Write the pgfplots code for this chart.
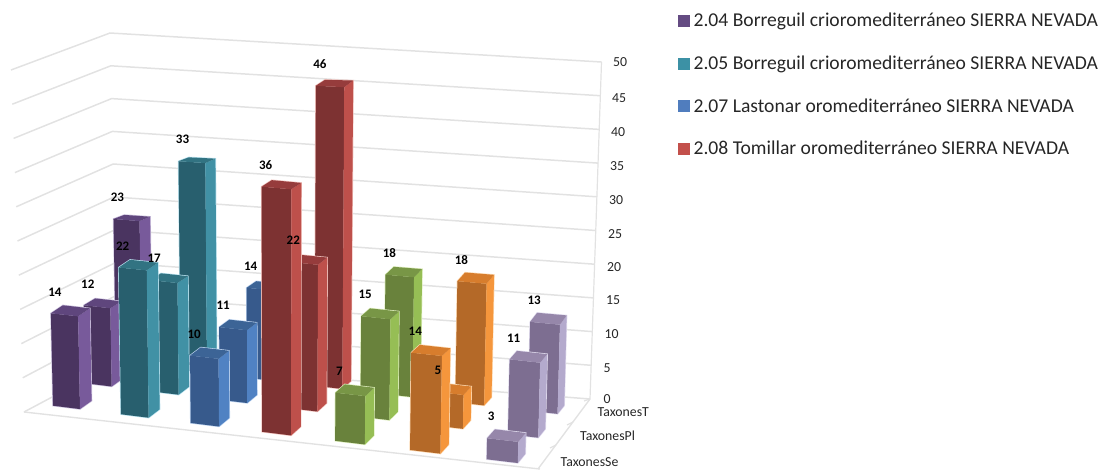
\documentclass[border=0pt]{standalone}
\usepackage{pgfplots}
\pgfplotsset{compat=1.18}
\usepackage{fontspec}
\setmainfont{Carlito}

% face colours: front, side, top, edge glow
\definecolor{purF}{RGB}{74,52,96}\definecolor{purS}{RGB}{120,90,155}\definecolor{purT}{RGB}{95,70,125}\definecolor{purH}{RGB}{205,195,222}
\definecolor{teaF}{RGB}{40,95,110}\definecolor{teaS}{RGB}{65,145,165}\definecolor{teaT}{RGB}{50,115,130}\definecolor{teaH}{RGB}{185,225,238}
\definecolor{bluF}{RGB}{55,90,140}\definecolor{bluS}{RGB}{80,130,195}\definecolor{bluT}{RGB}{60,100,150}\definecolor{bluH}{RGB}{190,212,240}
\definecolor{redF}{RGB}{125,50,50}\definecolor{redS}{RGB}{190,80,75}\definecolor{redT}{RGB}{150,60,60}\definecolor{redH}{RGB}{240,195,190}
\definecolor{griF}{RGB}{105,130,60}\definecolor{griS}{RGB}{150,190,85}\definecolor{griT}{RGB}{120,150,70}\definecolor{griH}{RGB}{222,238,190}
\definecolor{oraF}{RGB}{180,105,40}\definecolor{oraS}{RGB}{245,150,60}\definecolor{oraT}{RGB}{215,125,45}\definecolor{oraH}{RGB}{252,218,180}
\definecolor{lilF}{RGB}{125,110,145}\definecolor{lilS}{RGB}{180,170,205}\definecolor{lilT}{RGB}{150,135,170}\definecolor{lilH}{RGB}{225,220,238}
\definecolor{gridc}{RGB}{226,226,226}
\definecolor{legP}{RGB}{100,75,130}\definecolor{legT}{RGB}{60,145,165}\definecolor{legB}{RGB}{80,125,190}\definecolor{legR}{RGB}{195,80,75}

% one vertex of a bar: #1 category position, #2 row position, #3 height, #4 vertex name
\newcommand\BarVertex[4]{%
  \pgfmathsetmacro\uu{#1/6}%
  \pgfmathsetmacro\vv{#2/2}%
  \pgfmathsetmacro\ww{1-0.04743*\uu+0.05742*\vv}%
  \pgfmathsetmacro\xx{(410.62*\uu+69.66*\vv+53)/\ww-10*\uu*(1-\uu)}%
  \pgfmathsetmacro\yy{(31.81*\uu-22.91*\vv+405.7)/\ww}%
  \pgfmathsetmacro\ss{6.6-0.01*#2-0.09*#2*#2+(0.07-0.055*#2+0.035*#2*#2)*#1}%
  \pgfmathsetmacro\rx{\xx+#3*(\xx-280)/1500}%
  \pgfmathsetmacro\ry{\yy-#3*\ss}%
  \expandafter\let\csname X#4\endcsname\rx
  \expandafter\let\csname Y#4\endcsname\ry
}
\newcommand\BarCorners[3]{%
  \pgfmathsetmacro\ia{#1+0.4}\pgfmathsetmacro\ja{#2+0.36}%
  \BarVertex{#1}{#2}{0}{a}\BarVertex{\ia}{#2}{0}{b}\BarVertex{\ia}{\ja}{0}{c}%
  \BarVertex{#1}{#2}{#3}{e}\BarVertex{\ia}{#2}{#3}{f}\BarVertex{\ia}{\ja}{#3}{g}\BarVertex{#1}{\ja}{#3}{h}%
}
% cuboid for category #1, row #2, value #3, colour family #4
\newcommand\DrawBar[4]{%
  \BarCorners{#1}{#2}{#3}%
  \addplot[forget plot,draw=#4H,line width=1.3pt,fill=#4H] coordinates {(\Xa,\Ya)(\Xb,\Yb)(\Xc,\Yc)(\Xg,\Yg)(\Xh,\Yh)(\Xe,\Ye)} --cycle;
  \addplot[forget plot,draw=none,fill=#4F] coordinates {(\Xa,\Ya)(\Xb,\Yb)(\Xf,\Yf)(\Xe,\Ye)} --cycle;
  \addplot[forget plot,draw=none,fill=#4S] coordinates {(\Xb,\Yb)(\Xc,\Yc)(\Xg,\Yg)(\Xf,\Yf)} --cycle;
  \addplot[forget plot,draw=none,fill=#4T] coordinates {(\Xe,\Ye)(\Xf,\Yf)(\Xg,\Yg)(\Xh,\Yh)} --cycle;
}
% value label, set just above the bar's top front corner
\newcommand\DrawLabel[4]{%
  \BarVertex{#1}{#2}{#3}{e}%
  \pgfmathsetmacro\lx{\Xe+4}\pgfmathsetmacro\ly{\Ye-21.5}%
  \addplot[forget plot,draw=none,mark=none,point meta=explicit symbolic,nodes near coords,
    nodes near coords style={anchor=center,inner sep=0pt,font=\fontsize{13}{14}\selectfont\bfseries}]
    coordinates {(\lx,\ly)[#3]};
}
% category, row (0 TaxonesSe, 1 TaxonesPl, 2 TaxonesT), value, colour family; back rows first
\newcommand\ChartData[1]{%
  #1{0}{2}{23}{pur}#1{1}{2}{33}{tea}#1{2}{2}{14}{blu}#1{3}{2}{46}{red}#1{4}{2}{18}{gri}#1{5}{2}{18}{ora}#1{6}{2}{13}{lil}%
  #1{0}{1}{12}{pur}#1{1}{1}{17}{tea}#1{2}{1}{11}{blu}#1{3}{1}{22}{red}#1{4}{1}{15}{gri}#1{5}{1}{5}{ora}#1{6}{1}{11}{lil}%
  #1{0}{0}{14}{pur}#1{1}{0}{22}{tea}#1{2}{0}{10}{blu}#1{3}{0}{36}{red}#1{4}{0}{7}{gri}#1{5}{0}{14}{ora}#1{6}{0}{3}{lil}%
}
\newcommand\GridLine[3]{\addplot[forget plot,gridc,line width=1.5pt] coordinates {#1 #2 #3};}
\newcommand\TextAt[3]{\addplot[forget plot,draw=none,mark=none,point meta=explicit symbolic,nodes near coords,
    nodes near coords style={anchor=#3,inner sep=0pt,text=black!85,font=\fontsize{13.8}{14}\selectfont}] coordinates {#1[#2]};}

\begin{document}
\begin{tikzpicture}
\useasboundingbox (0,0) rectangle (1100pt,469pt);
\begin{axis}[
  at={(0,0)},anchor=south west,
  scale only axis,width=1100pt,height=469pt,
  xmin=0,xmax=1100,ymin=0,ymax=469,y dir=reverse,
  axis lines=none,clip=true,
  legend style={at={(axis cs:678,11)},anchor=north west,draw=none,fill=none,
    font=\fontsize{19.6}{20}\selectfont,row sep=23.5pt,inner sep=0pt,
    /tikz/every even column/.append style={column sep=0pt},
    nodes={text=black!85}},
  legend cell align=left,
  legend image code/.code={\fill[#1] (0pt,-5.5pt) rectangle (11pt,5.5pt);\path (13pt,0pt);},
]
\addlegendimage{legP}\addlegendentry{2.04 Borreguil crioromediterráneo SIERRA NEVADA}
\addlegendimage{legT}\addlegendentry{2.05 Borreguil crioromediterráneo SIERRA NEVADA}
\addlegendimage{legB}\addlegendentry{2.07 Lastonar oromediterráneo SIERRA NEVADA}
\addlegendimage{legR}\addlegendentry{2.08 Tomillar oromediterráneo SIERRA NEVADA}

% gridlines over the side wall and the back wall
\GridLine{(24,412)}{(118,362)}{(590,399)}
\GridLine{(22.7,377.8)}{(117.2,328)}{(591.2,365.3)}
\GridLine{(21.4,343.6)}{(116.4,295.4)}{(592.3,331.6)}
\GridLine{(20.1,309.4)}{(115.6,262.6)}{(593.5,297.9)}
\GridLine{(18.8,275.2)}{(114.8,229.8)}{(594.6,264.2)}
\GridLine{(17.5,241)}{(114,197)}{(595.8,230.5)}
\GridLine{(16.2,206.8)}{(113.2,164)}{(596.9,196.8)}
\GridLine{(14.9,172.6)}{(112.4,131.4)}{(598.1,163.1)}
\GridLine{(13.6,138.4)}{(111.6,98.6)}{(599.2,129.4)}
\GridLine{(12.3,104.2)}{(110.8,65.8)}{(600.4,95.7)}
\GridLine{(11,70)}{(110,33)}{(601.5,62)}
% vertical scale edge and floor edges
\addplot[forget plot,gridc,line width=1.2pt] coordinates {(590,399)(601.5,62)};
\addplot[forget plot,gridc,line width=1.4pt] coordinates {(24,412)(540,469)};
\addplot[forget plot,gridc,line width=1.4pt] coordinates {(590,399)(538,469)};
\addplot[forget plot,gridc,line width=1.2pt] coordinates {(590,399)(584,401)};
\addplot[forget plot,gridc,line width=1.2pt] coordinates {(573,422)(567,425)};
\addplot[forget plot,gridc,line width=1.2pt] coordinates {(556,445)(550,448)};

\ChartData\DrawBar
\ChartData\DrawLabel

% value scale
\TextAt{(603.5,399)}{0}{west}
\TextAt{(603.5,368)}{5}{west}
\TextAt{(604.5,334.5)}{10}{west}
\TextAt{(606,300.5)}{15}{west}
\TextAt{(607,267)}{20}{west}
\TextAt{(608,234)}{25}{west}
\TextAt{(609,200)}{30}{west}
\TextAt{(610,166)}{35}{west}
\TextAt{(611,132)}{40}{west}
\TextAt{(612,98)}{45}{west}
\TextAt{(613,62)}{50}{west}
% row names
\TextAt{(597.5,412)}{TaxonesT}{west}
\TextAt{(580,436)}{TaxonesPl}{west}
\TextAt{(560.5,462)}{TaxonesSe}{west}
\end{axis}
\end{tikzpicture}
\end{document}
